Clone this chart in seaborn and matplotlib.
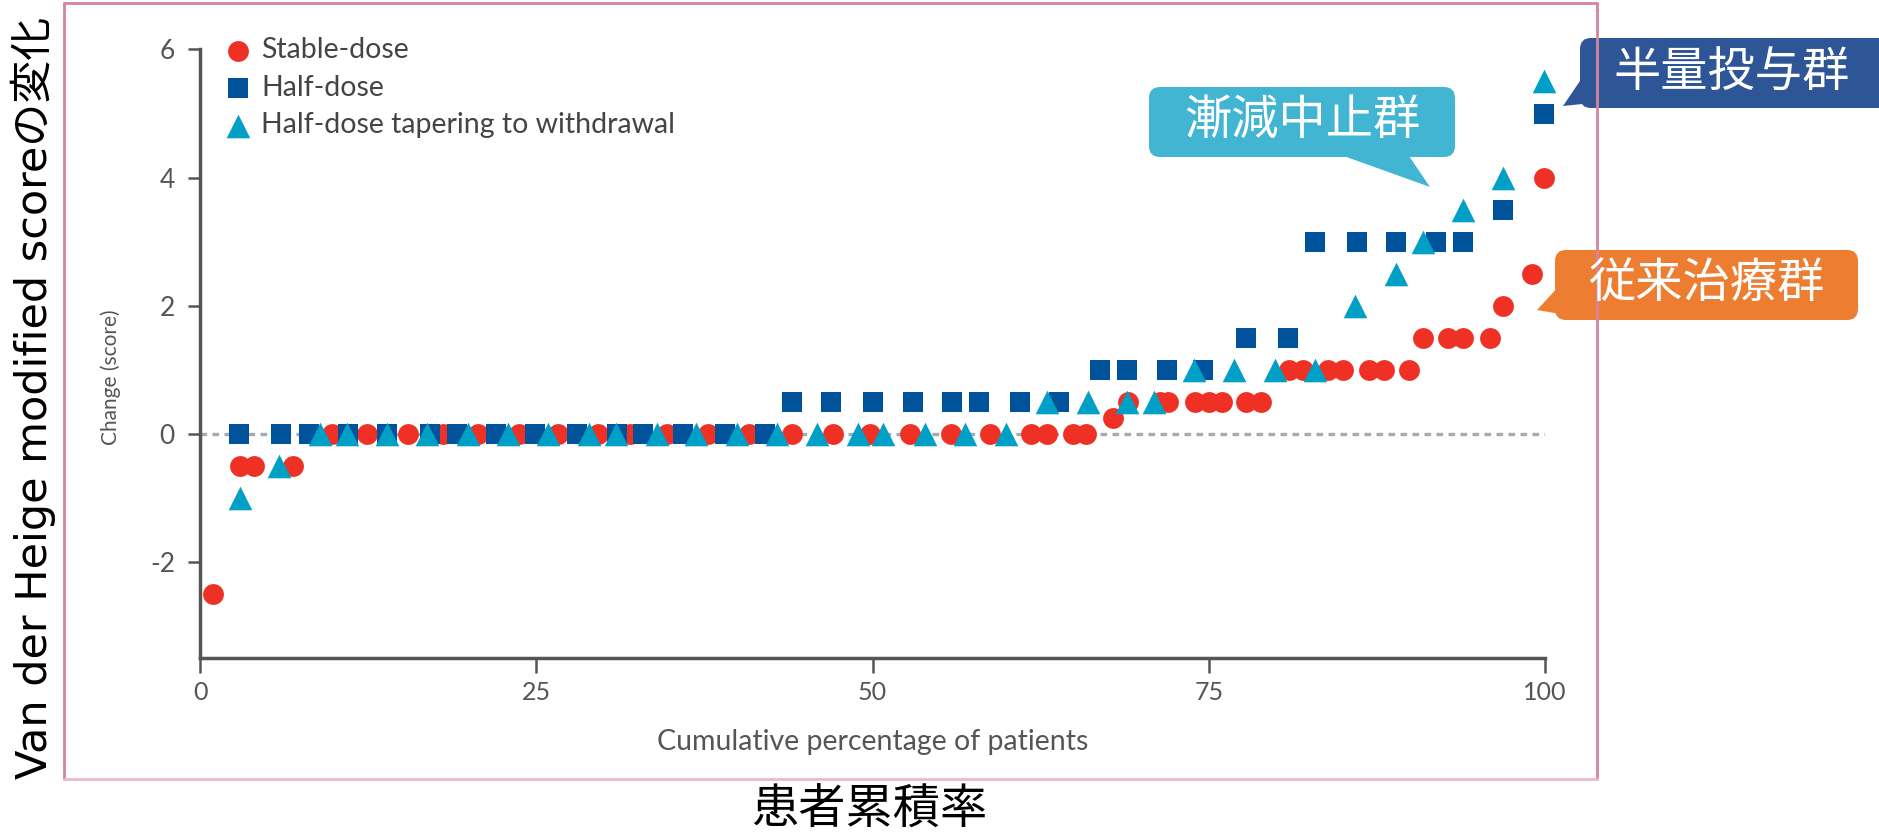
import matplotlib
matplotlib.use("Agg")
import matplotlib.pyplot as plt
import seaborn as sns
from matplotlib.patches import FancyBboxPatch, Polygon
from matplotlib.lines import Line2D

# ---- data ----
stable_x = [1.0, 3.0, 4.0, 6.9,
            9.8, 12.4, 15.5, 18.1, 20.7, 23.7, 26.6, 29.6, 32.0, 34.7, 37.8, 40.8,
            44.0, 47.1, 49.8, 52.8, 55.8, 58.7, 61.8, 63.0, 64.9, 65.9,
            67.9,
            69.0, 71.4, 72.0, 74.0, 75.0, 76.0, 77.8, 78.9,
            81.0, 82.0, 83.9, 85.0, 86.9, 88.0, 89.9,
            90.9, 92.8, 93.9, 95.9,
            96.9, 99.0, 99.9]
stable_y = [-2.5, -0.5, -0.5, -0.5,
            0, 0, 0, 0, 0, 0, 0, 0, 0, 0, 0, 0,
            0, 0, 0, 0, 0, 0, 0, 0, 0, 0,
            0.25,
            0.5, 0.5, 0.5, 0.5, 0.5, 0.5, 0.5, 0.5,
            1, 1, 1, 1, 1, 1, 1,
            1.5, 1.5, 1.5, 1.5,
            2, 2.5, 4]

half_x = [2.9, 6.0, 8.1, 11.0, 13.9, 17.1, 19.1, 22.0, 24.9, 28.0, 31.0, 32.9, 35.9, 39.0, 42.0,
          44.0, 46.9, 50.0, 53.0, 55.9, 57.9, 61.0, 63.9,
          66.9, 68.9, 71.9, 74.6,
          77.8, 80.9,
          82.9, 86.0, 88.9, 91.9, 93.9,
          96.9, 99.9]
half_y = [0, 0, 0, 0, 0, 0, 0, 0, 0, 0, 0, 0, 0, 0, 0,
          0.5, 0.5, 0.5, 0.5, 0.5, 0.5, 0.5, 0.5,
          1, 1, 1, 1,
          1.5, 1.5,
          3, 3, 3, 3, 3,
          3.5, 5]

taper_x = [3.0, 5.9,
           8.9, 10.9, 13.9, 16.9, 19.9, 22.9, 25.9, 28.9, 30.9, 34.0, 36.9, 39.9,
           42.9, 45.9, 48.9, 50.8, 53.9, 56.9, 59.9,
           63.0, 66.0, 68.9, 70.9,
           73.9, 76.9, 79.9, 82.9,
           85.9, 88.9, 90.9, 93.9, 96.9, 99.9]
taper_y = [-1, -0.5,
           0, 0, 0, 0, 0, 0, 0, 0, 0, 0, 0, 0,
           0, 0, 0, 0, 0, 0, 0,
           0.5, 0.5, 0.5, 0.5,
           1, 1, 1, 1,
           2, 2.5, 3, 3.5, 4, 5.5]

group_labels = ["Stable-dose", "Half-dose", "Half-dose tapering to withdrawal"]
x_ticks = [0, 25, 50, 75, 100]
y_ticks = [-2, 0, 2, 4, 6]
y_tick_labels = ["-2", "0", "2", "4", "6"]

W, H = 1879, 836

sns.set_style("ticks")
plt.rcParams["font.family"] = ["Lato", "DejaVu Sans"]

fig = plt.figure(figsize=(W / 100, H / 100), dpi=100)
ax = fig.add_axes([200 / W, (H - 658.4) / H, 1345 / W, 609 / H])

grey = "#555555"
ax.axhline(0, color="#a3abb3", lw=2.4, ls=(0, (2, 1.6)), zorder=1)

sns.scatterplot(x=stable_x, y=stable_y, color="#ee3124", marker="o", s=15 ** 2,
                linewidth=0, label=group_labels[0], ax=ax, clip_on=False, zorder=3)
sns.scatterplot(x=half_x, y=half_y, color="#00529b", marker="s", s=15 ** 2,
                linewidth=0, label=group_labels[1], ax=ax, clip_on=False, zorder=4)
sns.scatterplot(x=taper_x, y=taper_y, color="#00a0c6", marker="^", s=17 ** 2,
                linewidth=0, label=group_labels[2], ax=ax, clip_on=False, zorder=5)

ax.set_xlim(0, 100)
ax.set_ylim(-3.5, 6)
ax.set_xticks(x_ticks)
ax.set_yticks(y_ticks)
ax.set_yticklabels(y_tick_labels)
sns.despine(ax=ax)
for s in ["left", "bottom"]:
    ax.spines[s].set_color(grey)
    ax.spines[s].set_linewidth(2.5)
ax.tick_params(axis="x", length=11, width=1.8, color=grey, labelcolor=grey, labelsize=18, pad=5)
ax.tick_params(axis="y", length=9, width=1.8, color=grey, labelcolor=grey, labelsize=19, pad=9)
ax.set_xlabel("Cumulative percentage of patients", fontsize=20.5, color=grey, labelpad=18)
ax.set_ylabel("Change (score)", fontsize=15, color=grey)
ax.yaxis.set_label_coords(-0.059, 0.462)

ax.legend(loc="upper left", bbox_to_anchor=(0.018, 1.02), frameon=False,
          borderpad=0, borderaxespad=0, handlelength=1.0, handletextpad=0.3,
          labelspacing=0.4, fontsize=20.5, labelcolor="#444444")

# ---- overlays placed in inches from the bottom-left ----
T = fig.dpi_scale_trans


def px(x, y):
    return (x / 100, (H - y) / 100)


# pink frame
frame_c = "#d4849e"
for (x0, y0, x1, y1, c) in [(63.5, 3, 1597, 3, frame_c), (63.5, 3, 63.5, 779, frame_c),
                            (1597, 3, 1597, 779, frame_c), (63.5, 779, 1597, 779, "#ebb9c9")]:
    fig.add_artist(Line2D([x0 / 100, x1 / 100], [(H - y0) / 100, (H - y1) / 100],
                          transform=T, color=c, lw=2))


def callout(x0, y0, x1, y1, tail, color, text, tx, ty):
    fig.add_artist(FancyBboxPatch(px(x0, y1), (x1 - x0) / 100, (y1 - y0) / 100,
                                  boxstyle="round,pad=0,rounding_size=0.11",
                                  transform=T, facecolor=color, edgecolor="none"))
    fig.add_artist(Polygon([px(*p) for p in tail], closed=True, transform=T,
                           facecolor=color, edgecolor="none"))
    fig.text(tx / W, 1 - ty / H, text, color="white", fontsize=34, ha="center", va="center",
             family=["Noto Sans CJK JP"])


callout(1580, 38, 1895, 108, [(1582, 78), (1563, 106), (1592, 103)], "#2e5596", "半量投与群", 1732, 74)
callout(1149, 87, 1455, 157, [(1327, 150), (1430, 187), (1405, 150)], "#42b5d3", "漸減中止群", 1302, 121)
callout(1555, 250, 1858, 320, [(1560, 285), (1537, 310), (1566, 315)], "#ed7d31", "従来治療群", 1707, 284)

fig.text(869 / W, 1 - 810 / H, "患者累積率", fontsize=34, color="black", ha="center", va="center",
         family=["Noto Sans CJK JP"])
fig.text(33 / W, 1 - 398 / H, "Van der Heige modified scoreの変化", fontsize=31, color="black",
         rotation=90, ha="center", va="center", family=["DejaVu Sans", "Noto Sans CJK JP"])

fig.savefig("out.png", dpi=100)
